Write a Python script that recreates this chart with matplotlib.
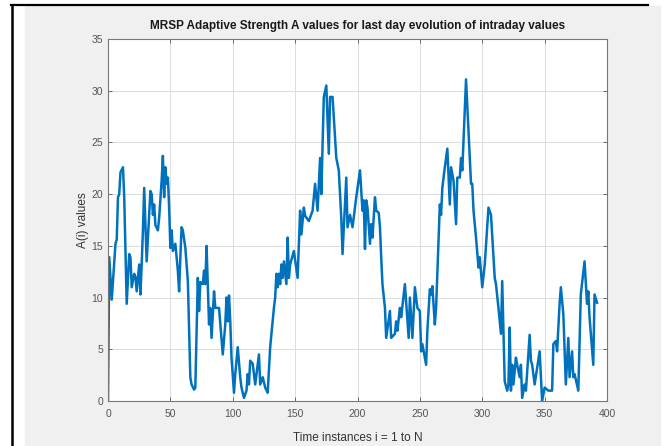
import numpy as np
import matplotlib.pyplot as plt
from matplotlib.lines import Line2D
from matplotlib.patches import Rectangle

# time index and A(i) values
t_idx = [0, 1, 3, 6, 7, 8, 9, 10, 12, 13, 15, 17, 18, 19, 21, 22, 23, 25, 26, 27,
         28, 29, 31, 32, 34, 35, 36, 37, 38, 40, 41, 43, 44, 45, 46, 47, 48, 49, 50, 51,
         52, 54, 56, 57, 58, 59, 60, 62, 64, 66, 67, 69, 70, 72, 73, 74, 76, 77, 78, 79,
         80, 81, 82, 83, 85, 86, 89, 92, 94, 95, 96, 97, 98, 99, 101, 102, 104, 106, 107, 109,
         111, 112, 113, 114, 116, 118, 121, 122, 124, 126, 128, 130, 133, 134, 135, 136, 137, 138, 139, 140,
         141, 143, 144, 145, 146, 149, 152, 154, 155, 157, 158, 161, 164, 166, 168, 170, 171, 173, 175, 177,
         178, 180, 183, 185, 187, 188, 191, 192, 194, 196, 199, 202, 204, 205, 206, 207, 208, 210, 211, 212,
         214, 215, 217, 218, 219, 220, 222, 223, 226, 227, 230, 231, 232, 234, 235, 238, 241, 242, 244, 246,
         248, 250, 251, 252, 255, 256, 258, 259, 260, 262, 263, 266, 267, 268, 270, 272, 274, 275, 277, 279,
         280, 282, 283, 284, 287, 289, 291, 292, 293, 295, 297, 298, 300, 302, 305, 307, 310, 311, 313, 315,
         316, 318, 320, 321, 322, 323, 324, 325, 327, 328, 330, 331, 332, 334, 335, 338, 339, 340, 342, 346,
         348, 350, 353, 356, 357, 359, 360, 362, 363, 365, 367, 369, 370, 372, 373, 374, 377, 379, 382, 384,
         385, 386, 389, 390, 392]
a_vals = [0, 13.9, 9.8, 15.2, 15.6, 19.7, 20, 22.1, 22.6, 19.7, 9.4, 14.2, 13.9, 11, 12.3, 12, 10.6, 13.2, 10.3, 13.2,
          16.5, 20.6, 13.5, 15.8, 20.3, 20, 18, 19, 17, 16.5, 17.7, 21.3, 23.7, 19.7, 22.6, 21, 21.6, 18.7, 14.8, 16.5,
          14.5, 15.2, 12.6, 10.6, 13.9, 16.8, 16.5, 14.8, 11.6, 2.3, 1.6, 1.1, 1.3, 11.9, 8.7, 11.5, 11.3, 12.6, 11.3, 15,
          11.3, 7.4, 9, 6.1, 10.6, 9, 9, 4.5, 7.4, 10, 7.7, 10.2, 7.7, 4.2, 0.8, 2.6, 5.2, 2.3, 1.3, 0.3,
          1, 2.6, 1.6, 3.9, 3.6, 1.6, 4.5, 1.6, 2.3, 1.3, 0.8, 5.2, 9, 10, 12.3, 11, 12.3, 11.3, 13.2, 11.9,
          13.5, 11.3, 15.8, 11.9, 13.2, 14.5, 11.9, 18.4, 16.1, 18.7, 17.9, 17.4, 18.4, 21, 18.4, 23.5, 20, 29.4, 30.5, 23.9,
          29.4, 29.4, 23.5, 22.3, 17.7, 14.2, 21.6, 16.8, 18, 16.8, 19.7, 22.3, 18.4, 19.4, 14.7, 19.4, 18.7, 15.2, 17.1, 15.8,
          19.7, 18.4, 18.2, 16.8, 13.9, 11.3, 9, 6.1, 8.7, 6.1, 6.5, 7.7, 6.8, 9, 8.1, 11.3, 6.1, 10, 6.1, 11,
          9, 8.7, 4.8, 5.5, 3.5, 6.8, 10.8, 10.3, 11.1, 7.4, 9, 19, 18, 20.6, 22.6, 24.4, 19, 22.6, 21.3, 17.1,
          21.6, 21.6, 23.5, 22.3, 31.1, 26.1, 21, 21, 18.4, 15.8, 12.9, 13.9, 11, 13.2, 18.7, 18, 11.9, 11.3, 9, 6.5,
          11.6, 1.9, 1, 1.6, 7.1, 1, 3.5, 1.6, 4.2, 3.5, 2.3, 3.5, 0.3, 1.6, 1, 6.4, 3.9, 3.5, 1.6, 4.8,
          0, 1.3, 1, 1, 5.5, 5.8, 4.8, 9.4, 11, 8.4, 1.6, 6.1, 2.3, 4.8, 2.3, 2.6, 1, 10.3, 13.5, 9.4,
          10.6, 8.1, 3.5, 10.3, 9.5]

x_ticks = [0, 50, 100, 150, 200, 250, 300, 350, 400]
y_ticks = [0, 5, 10, 15, 20, 25, 30, 35]

plt.rcParams['font.family'] = ['Liberation Sans', 'DejaVu Sans']

fig = plt.figure(figsize=(6.62, 4.46), dpi=100, facecolor='white')
W, H = 662, 446
# gray window panel and black screenshot border
fig.patches.append(Rectangle((25 / W, 0), 1 - 25 / W - 2 / W, 1 - 6 / H,
                             transform=fig.transFigure, color='#f0f0f0', zorder=-10))
fig.lines.append(Line2D([11 / W, 648 / W], [1 - 5 / H, 1 - 5 / H],
                        transform=fig.transFigure, color='black', lw=1.6, zorder=-5))
fig.lines.append(Line2D([12 / W, 12 / W], [0, 1 - 5 / H],
                        transform=fig.transFigure, color='black', lw=1.8, zorder=-5))

ax = fig.add_axes([108 / W, 1 - 401 / H, (607 - 108) / W, (401 - 39) / H])
ax.set_facecolor('white')
ax.plot(t_idx, a_vals, color='#0072BD', lw=1.8)

ax.set_xlim(0, 400)
ax.set_ylim(0, 35)
ax.set_xticks(x_ticks)
ax.set_yticks(y_ticks)
ax.grid(True, color='#dcdcdc', lw=0.7)
ax.set_axisbelow(True)
ax.tick_params(direction='in', top=True, right=True, length=3, width=0.6,
               colors='#555555', labelsize=7.5, labelcolor='#555555')
ax.tick_params(axis='x', pad=6)
for s in ax.spines.values():
    s.set_color('#777777')
    s.set_linewidth(0.8)

ax.set_title('MRSP Adaptive Strength A values for last day evolution of intraday values',
             fontsize=8.5, fontweight='bold', color='#1a1a1a', pad=7)
ax.set_xlabel('Time instances i = 1 to N', fontsize=8.5, color='#333333', labelpad=9)
ax.set_ylabel('A(i) values', fontsize=8.5, color='#333333', labelpad=2)

fig.savefig('out.png', dpi=100, facecolor=fig.get_facecolor())
